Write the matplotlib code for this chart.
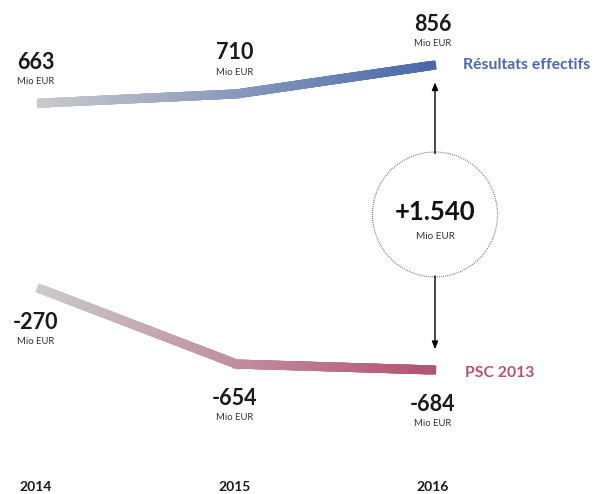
import numpy as np
import matplotlib
matplotlib.use("Agg")
import matplotlib.pyplot as plt
from matplotlib.collections import LineCollection
from matplotlib.colors import LinearSegmentedColormap
import matplotlib.transforms as mtransforms
from matplotlib.patches import Circle

# ---- data ----
years = [2014, 2015, 2016]
year_labels = ["2014", "2015", "2016"]
actual = [663, 710, 856]          # Résultats effectifs
psc = [-270, -654, -684]          # PSC 2013
series_names = ["Résultats effectifs", "PSC 2013"]
unit = "Mio EUR"
diff_label = "+1.540"

FONT = ["Lato", "DejaVu Sans"]
plt.rcParams['font.family'] = FONT

W, H, DPI = 600, 494, 100
fig = plt.figure(figsize=(W / DPI, H / DPI), dpi=DPI)
ax = fig.add_axes([0, 0, 1, 1])
ax.set_axis_off()

# pixel mapping: 2014 -> x=38px, 2016 -> x=435px ; 856 -> y=65px, -684 -> y=370px
px_per_year = (435 - 38) / 2.0
ax.set_xlim(2014 - 38 / px_per_year, 2014 + (W - 38) / px_per_year)
u_per_px = (856 - (-684)) / (370 - 65)
ax.set_ylim(856 - (H - 65) * u_per_px, 856 + 65 * u_per_px)

blue = "#4a69ab"
red = "#b5536f"
grey = "#cbcbcd"


def gradient_line(xs, ys, c0, c1, lw):
    cmap = LinearSegmentedColormap.from_list("g", [c0, c1])
    segs = []
    vals = []
    n = 60
    for i in range(len(xs) - 1):
        t = np.linspace(0, 1, n + 1)
        sx = xs[i] + (xs[i + 1] - xs[i]) * t
        sy = ys[i] + (ys[i + 1] - ys[i]) * t
        for k in range(n):
            segs.append([(sx[k], sy[k]), (sx[k + 1], sy[k + 1])])
            vals.append(((sx[k] + sx[k + 1]) / 2 - xs[0]) / (xs[-1] - xs[0]))
    vals = np.array(vals)
    lc = LineCollection(segs, cmap=cmap, linewidths=lw, capstyle='butt')
    lc.set_array(vals)
    lc.set_clim(0, 1)
    ax.add_collection(lc)
    # interior segments with projecting caps to close gaps at the kinks
    lc2 = LineCollection(segs[1:-1], cmap=cmap, linewidths=lw, capstyle='projecting')
    lc2.set_array(vals[1:-1])
    lc2.set_clim(0, 1)
    ax.add_collection(lc2)


gradient_line(years, actual, grey, blue, 6.5)
gradient_line(years, psc, grey, red, 6.5)

# value labels
for x, v in zip(years, actual):
    ax.annotate(f"{v}", (x, v), xytext=(-1.5, 29.5), textcoords="offset points",
                ha="center", va="center", fontsize=15.5, fontweight="bold", color="#1a1a1a")
    ax.annotate(unit, (x, v), xytext=(-1.5, 15.5), textcoords="offset points",
                ha="center", va="center", fontsize=6.8, color="#333333")
for x, v in zip(years, psc):
    ax.annotate(f"{v}", (x, v), xytext=(-1.5, -24.5), textcoords="offset points",
                ha="center", va="center", fontsize=15.5, fontweight="bold", color="#1a1a1a")
    ax.annotate(unit, (x, v), xytext=(-1.5, -38.5), textcoords="offset points",
                ha="center", va="center", fontsize=6.8, color="#333333")

# series labels
ax.annotate(series_names[0], (years[-1], actual[-1]), xytext=(20.5, 0),
            textcoords="offset points", ha="left", va="center", fontsize=11.3,
            fontweight="bold", color=blue)
ax.annotate(series_names[1], (years[-1], psc[-1]), xytext=(21.5, -2),
            textcoords="offset points", ha="left", va="center", fontsize=11.3,
            fontweight="bold", color=red)

# circle with difference
mid = (actual[-1] + psc[-1]) / 2.0
r_in = 0.625
trans = fig.dpi_scale_trans + mtransforms.ScaledTranslation(years[-1], mid, ax.transData)
circ = Circle((0, 0.03), r_in, transform=trans, facecolor="white", edgecolor="#666666",
              linestyle=(0, (0.8, 1.0)), linewidth=0.8, zorder=3)
ax.add_patch(circ)
ax.annotate(diff_label, (years[-1], mid), xytext=(0, 4), textcoords="offset points",
            ha="center", va="center", fontsize=18.5, fontweight="bold", color="#111111", zorder=4)
ax.annotate(unit, (years[-1], mid), xytext=(0, -14), textcoords="offset points",
            ha="center", va="center", fontsize=7.2, color="#333333", zorder=4)

# arrows
r_pt = r_in * 72
ax.annotate("", xy=(years[-1], actual[-1]), xytext=(years[-1], mid),
            arrowprops=dict(arrowstyle="-|>,head_length=0.45,head_width=0.18", color="black",
                            lw=1.0, shrinkA=r_pt + 1, shrinkB=12.5))
ax.annotate("", xy=(years[-1], psc[-1]), xytext=(years[-1], mid),
            arrowprops=dict(arrowstyle="-|>,head_length=0.45,head_width=0.18", color="black",
                            lw=1.0, shrinkA=r_pt - 3, shrinkB=15))

# year labels
for x, lab in zip(years, year_labels):
    ax.annotate(lab, (x, 0), xycoords=("data", "figure fraction"),
                xytext=(-1.5, 5.4), textcoords="offset points",
                ha="center", va="center", fontsize=10, fontweight="bold", color="#1a1a1a")

fig.savefig("out.png", dpi=DPI, facecolor="white")
